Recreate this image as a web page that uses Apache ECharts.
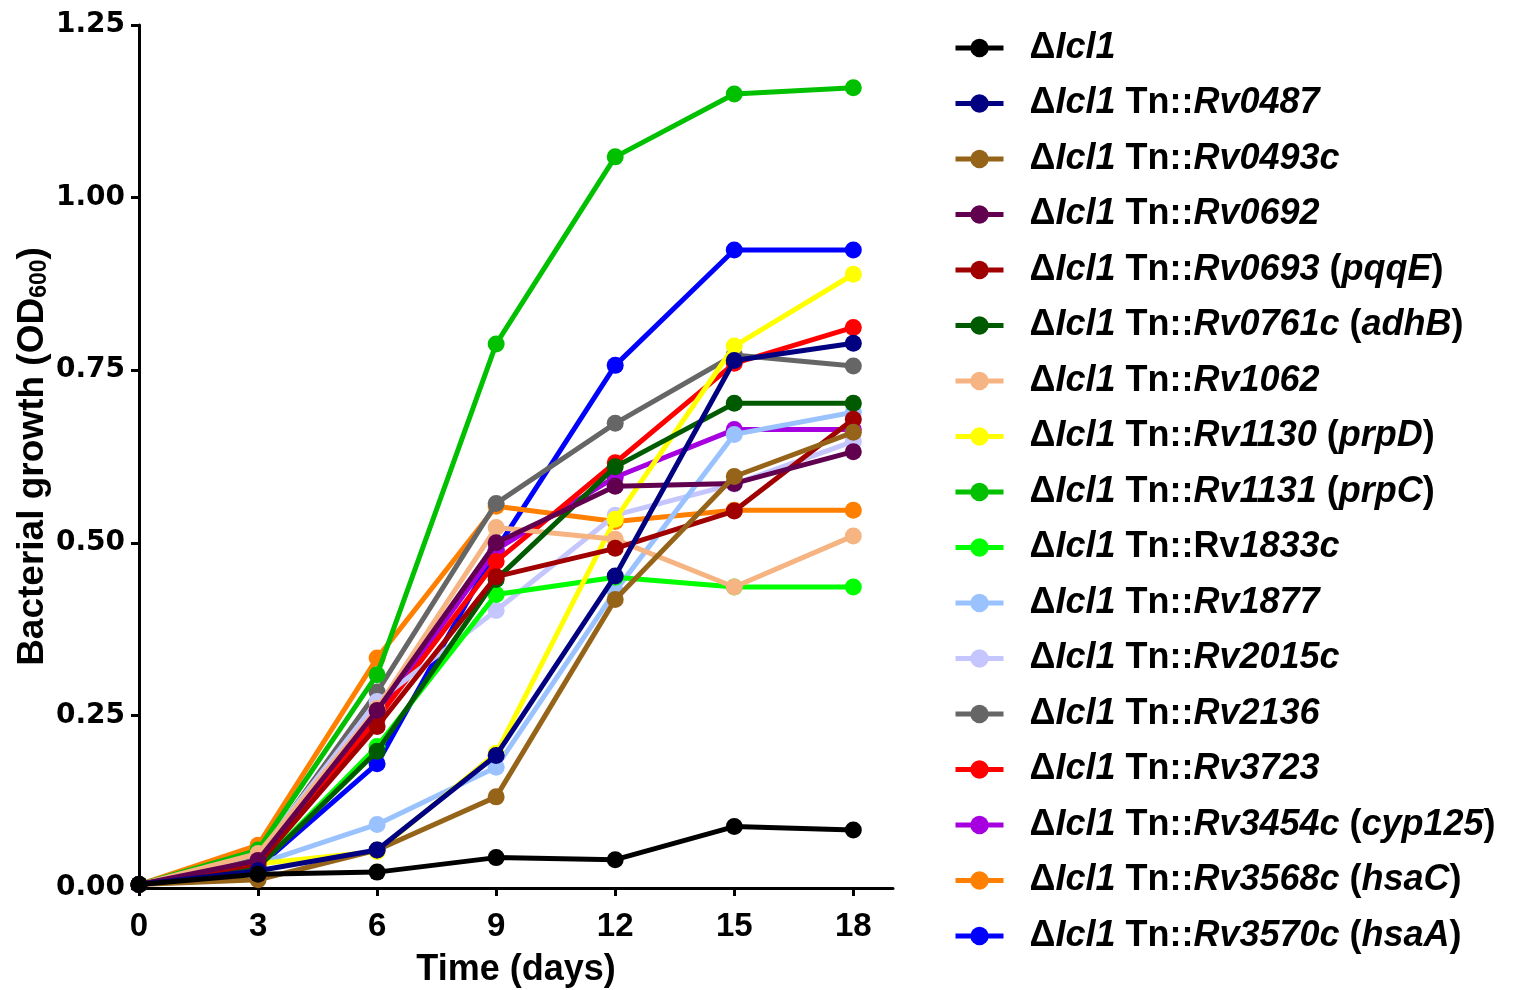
<!DOCTYPE html>
<html>
<head>
<meta charset="utf-8">
<script src="https://cdn.jsdelivr.net/npm/echarts@6/dist/echarts.min.js"></script>
<style>
  html, body { margin: 0; padding: 0; background: #fff; }
  #main { width: 1517px; height: 990px; }
</style>
</head>
<body>
<div id="main"></div>
<script>
// time points (days)
var days = [0, 3, 6, 9, 12, 15, 18];
var xTicks = [0, 3, 6, 9, 12, 15, 18];

var strainNames = [
    'ΔIcl1',
    'ΔIcl1 Tn::Rv0487',
    'ΔIcl1 Tn::Rv0493c',
    'ΔIcl1 Tn::Rv0692',
    'ΔIcl1 Tn::Rv0693 (pqqE)',
    'ΔIcl1 Tn::Rv0761c (adhB)',
    'ΔIcl1 Tn::Rv1062',
    'ΔIcl1 Tn::Rv1130 (prpD)',
    'ΔIcl1 Tn::Rv1131 (prpC)',
    'ΔIcl1 Tn::Rv1833c',
    'ΔIcl1 Tn::Rv1877',
    'ΔIcl1 Tn::Rv2015c',
    'ΔIcl1 Tn::Rv2136',
    'ΔIcl1 Tn::Rv3723',
    'ΔIcl1 Tn::Rv3454c (cyp125)',
    'ΔIcl1 Tn::Rv3568c (hsaC)',
    'ΔIcl1 Tn::Rv3570c (hsaA)'
];

// OD600 values, one list per strain
var icl1     = [0.005, 0.020, 0.023, 0.044, 0.041, 0.089, 0.084];
var rv0487   = [0.005, 0.025, 0.055, 0.192, 0.452, 0.764, 0.789];
var rv0493c  = [0.005, 0.012, 0.055, 0.132, 0.418, 0.596, 0.660];
var rv0692   = [0.005, 0.040, 0.257, 0.500, 0.582, 0.586, 0.632];
var rv0693   = [0.005, 0.035, 0.234, 0.451, 0.492, 0.546, 0.679];
var rv0761c  = [0.005, 0.030, 0.198, 0.447, 0.610, 0.702, 0.702];
var rv1062   = [0.005, 0.050, 0.260, 0.522, 0.505, 0.436, 0.510];
var rv1130   = [0.005, 0.035, 0.053, 0.195, 0.534, 0.785, 0.889];
var rv1131   = [0.005, 0.055, 0.309, 0.788, 1.059, 1.150, 1.159];
var rv1833c  = [0.005, 0.030, 0.205, 0.425, 0.450, 0.436, 0.436];
var rv1877   = [0.005, 0.035, 0.092, 0.175, 0.430, 0.657, 0.689];
var rv2015c  = [0.005, 0.050, 0.270, 0.402, 0.540, 0.585, 0.647];
var rv2136   = [0.005, 0.045, 0.284, 0.557, 0.673, 0.772, 0.756];
var rv3723   = [0.005, 0.035, 0.245, 0.473, 0.616, 0.760, 0.812];
var rv3454c  = [0.005, 0.035, 0.250, 0.490, 0.595, 0.664, 0.664];
var rv3568c  = [0.005, 0.062, 0.333, 0.553, 0.531, 0.547, 0.547];
var rv3570c  = [0.005, 0.030, 0.180, 0.490, 0.757, 0.924, 0.924];

var allValues = [icl1, rv0487, rv0493c, rv0692, rv0693, rv0761c, rv1062, rv1130,
    rv1131, rv1833c, rv1877, rv2015c, rv2136, rv3723, rv3454c, rv3568c, rv3570c];

var colors = ['#000000', '#000080', '#966419', '#620050', '#a00000', '#005a00', '#f5b482',
    '#ffff00', '#00c000', '#00ff00', '#99c2ff', '#c6c6ff', '#666666', '#ff0000',
    '#a600e0', '#ff8000', '#0000ff'];

// names where "Rv" is printed upright
var uprightRv = ['ΔIcl1 Tn::Rv1833c'];

var FONT = "'Liberation Sans', Arial, sans-serif";

function legendText(name) {
    var m = name.match(/^ΔIcl1(?: Tn::Rv(\w+))?(?: \((\w+)\))?$/);
    var s = '{d|Δ}{i|Icl1}';
    if (m[1]) {
        if (uprightRv.indexOf(name) >= 0) s += ' Tn::Rv{i|' + m[1] + '}';
        else s += ' Tn::{i|Rv' + m[1] + '}';
    }
    if (m[2]) s += ' ({i|' + m[2] + '})';
    return s;
}

var myChart = echarts.init(document.getElementById('main'));

var series = [];
for (var i = 0; i < strainNames.length; i++) {
    var pts = [];
    for (var j = 0; j < days.length; j++) {
        pts.push([days[j], allValues[i][j]]);
    }
    series.push({
        name: strainNames[i],
        type: 'line',
        data: pts,
        symbol: 'circle',
        symbolSize: 17,
        clip: false,
        z: 2 + strainNames.length - i,
        itemStyle: { color: colors[i] },
        lineStyle: { color: colors[i], width: 5 },
        emphasis: { disabled: true }
    });
}

option = {
    animation: false,
    grid: { left: 139, right: 624, top: 25, bottom: 102, outerBoundsMode: 'none', containLabel: false },
    legend: {
        orient: 'vertical',
        left: 953,
        top: 30,
        padding: 0,
        itemWidth: 48,
        itemHeight: 23,
        itemGap: 19.5,
        lineStyle: { width: 5 },
        data: strainNames,
        formatter: legendText,
        textStyle: {
            fontFamily: FONT,
            fontWeight: 'bold',
            fontSize: 36,
            lineHeight: 36,
            color: '#000',
            rich: {
                d: { fontFamily: FONT, fontWeight: 'bold', fontSize: 36, lineHeight: 36, padding: [0, 0, 0, 21] },
                i: { fontFamily: FONT, fontWeight: 'bold', fontStyle: 'italic', fontSize: 36, lineHeight: 36 }
            }
        }
    },
    xAxis: {
        type: 'value',
        min: 0,
        max: 19,
        interval: 3,
        name: 'Time (days)',
        nameLocation: 'middle',
        nameGap: 64,
        nameTextStyle: { fontFamily: FONT, fontWeight: 'bold', fontSize: 36, color: '#000' },
        splitLine: { show: false },
        axisLine: { lineStyle: { color: '#000', width: 3 } },
        axisTick: { length: 8, lineStyle: { color: '#000', width: 3 }, customValues: xTicks },
        axisLabel: {
            customValues: xTicks,
            margin: 22,
            fontFamily: FONT, fontWeight: 'bold', fontSize: 33, color: '#000'
        }
    },
    yAxis: {
        type: 'value',
        min: 0,
        max: 1.25,
        interval: 0.25,
        name: '{t|Bacterial growth (OD}{s|600}{t|)}',
        nameLocation: 'middle',
        nameGap: 88,
        nameTextStyle: {
            rich: {
                t: { fontFamily: FONT, fontWeight: 'bold', fontSize: 37, color: '#000' },
                s: { fontFamily: FONT, fontWeight: 'bold', fontSize: 23, color: '#000', verticalAlign: 'bottom', padding: [14, 0, 0, 0] }
            }
        },
        splitLine: { show: false },
        axisLine: { show: true, lineStyle: { color: '#000', width: 3 } },
        axisTick: { show: true, length: 8, lineStyle: { color: '#000', width: 3 } },
        axisLabel: {
            margin: 14,
            fontFamily: "'DejaVu Sans', sans-serif", fontWeight: 'bold', fontSize: 28, color: '#000',
            formatter: function (v) { return v.toFixed(2); }
        }
    },
    series: series
};

myChart.setOption(option);
</script>
</body>
</html>
